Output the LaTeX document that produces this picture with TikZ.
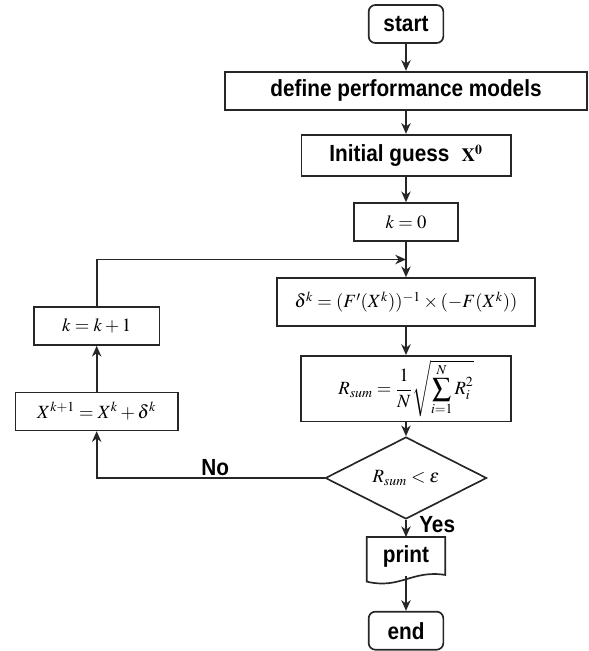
\documentclass[tikz,border=0pt]{standalone}
\usepackage{amsmath}
\usepackage{mathptmx}
\usepackage[no-math]{fontspec}
\newfontfamily\flowfont[FakeStretch=0.89]{Liberation Sans}
\usetikzlibrary{shapes.geometric, arrows.meta, calc}
\tikzstyle{terminal} = [rectangle, rounded corners=5pt, minimum width=56pt, minimum height=28.5pt, draw=black!85, line width=1.25pt, font=\flowfont\bfseries\fontsize{17.5}{20}\selectfont]
\tikzstyle{process} = [rectangle, minimum height=28.5pt, draw=black!85, line width=1.25pt, font=\fontsize{14}{16}\selectfont]
\tikzstyle{decision} = [diamond, minimum width=121pt, minimum height=42pt, inner sep=0pt, draw=black!85, line width=1.25pt, font=\fontsize{14}{16}\selectfont]
\tikzstyle{output} = [rectangle, minimum width=58.5pt, minimum height=29pt, font=\flowfont\bfseries\fontsize{17.5}{20}\selectfont]
\tikzstyle{answer} = [font=\flowfont\bfseries\fontsize{17.5}{20}\selectfont]
\tikzstyle{arrow} = [line width=1.25pt, draw=black!85, -{Stealth[length=8pt,width=7pt,inset=2.5pt]}]

\begin{document}
\begin{tikzpicture}[x=0.75pt, y=-0.75pt, node distance=50pt]
  \useasboundingbox (0,0) rectangle (589,651);
  \node (start) [terminal] at (406,24) {start};
  \node (define) [process, below of=start, minimum width=271.5pt, font=\flowfont\bfseries\fontsize{17.5}{20}\selectfont]{define performance models};
  \node (init) [process, below of=define, yshift=1.5pt, minimum width=157pt, minimum height=31pt]{{\flowfont\bfseries\fontsize{17.5}{20}\selectfont Initial guess}\ \ $\mathbf{X}^{\mathbf{0}}$};
  \node (k0) [process, below of=init, minimum width=78pt]{$k=0$};
  \node (delta) [process, below of=k0, yshift=-10pt, minimum width=193.5pt, minimum height=36pt]{$\delta^{k}=(F'(X^{k}))^{-1}\times(-F(X^{k}))$};
  \node (rsum) [process, below of=delta, yshift=-15pt, minimum width=157.5pt, minimum height=49pt]{$R_{sum}=\dfrac{1}{N}\sqrt{\displaystyle\sum_{i=1}^{N}R_i^2}$};
  \node (dec) [decision, below of=rsum, yshift=-17pt]{$R_{sum}<\varepsilon$};
  \node (print) [output, below of=dec, yshift=-9pt]{print};
  \node (end) [terminal, below of=print, yshift=-5.5pt]{end};
  \node (xnew) [process, left of=dec, xshift=-182pt, yshift=50pt, minimum width=122pt]{$X^{k+1}=X^{k}+\delta^{k}$};
  \node (kinc) [process, above of=xnew, yshift=14pt, minimum width=94pt]{$k=k+1$};
  % document outline of the print step
  \draw[line width=1.25pt, draw=black!85] ([yshift=-4pt]print.south west) -- (print.north west) -- (print.north east) -- ([yshift=1pt]print.south east)
    .. controls +(-25pt,4pt) and +(25pt,-6pt) .. ([yshift=-4pt]print.south west) -- cycle;
  \coordinate (join) at ($(k0.south)!0.5!(delta.north)$);
  \draw[arrow](start) -- (define);
  \draw[arrow](define) -- (init);
  \draw[arrow](init) -- (k0);
  \draw[arrow](k0) -- (delta);
  \draw[arrow](delta) -- (rsum);
  \draw[arrow](rsum) -- (dec);
  \draw[arrow](dec) -- node[answer, right, xshift=6pt, yshift=3pt]{Yes} (print);
  \draw[arrow](print.south) -- (end);
  \draw[arrow](dec.west) -| node[answer, pos=0.24, above, inner sep=1pt]{No} (xnew.south);
  \draw[arrow](xnew) -- (kinc);
  \draw[arrow](kinc.north) |- (join);
\end{tikzpicture}
\end{document}
